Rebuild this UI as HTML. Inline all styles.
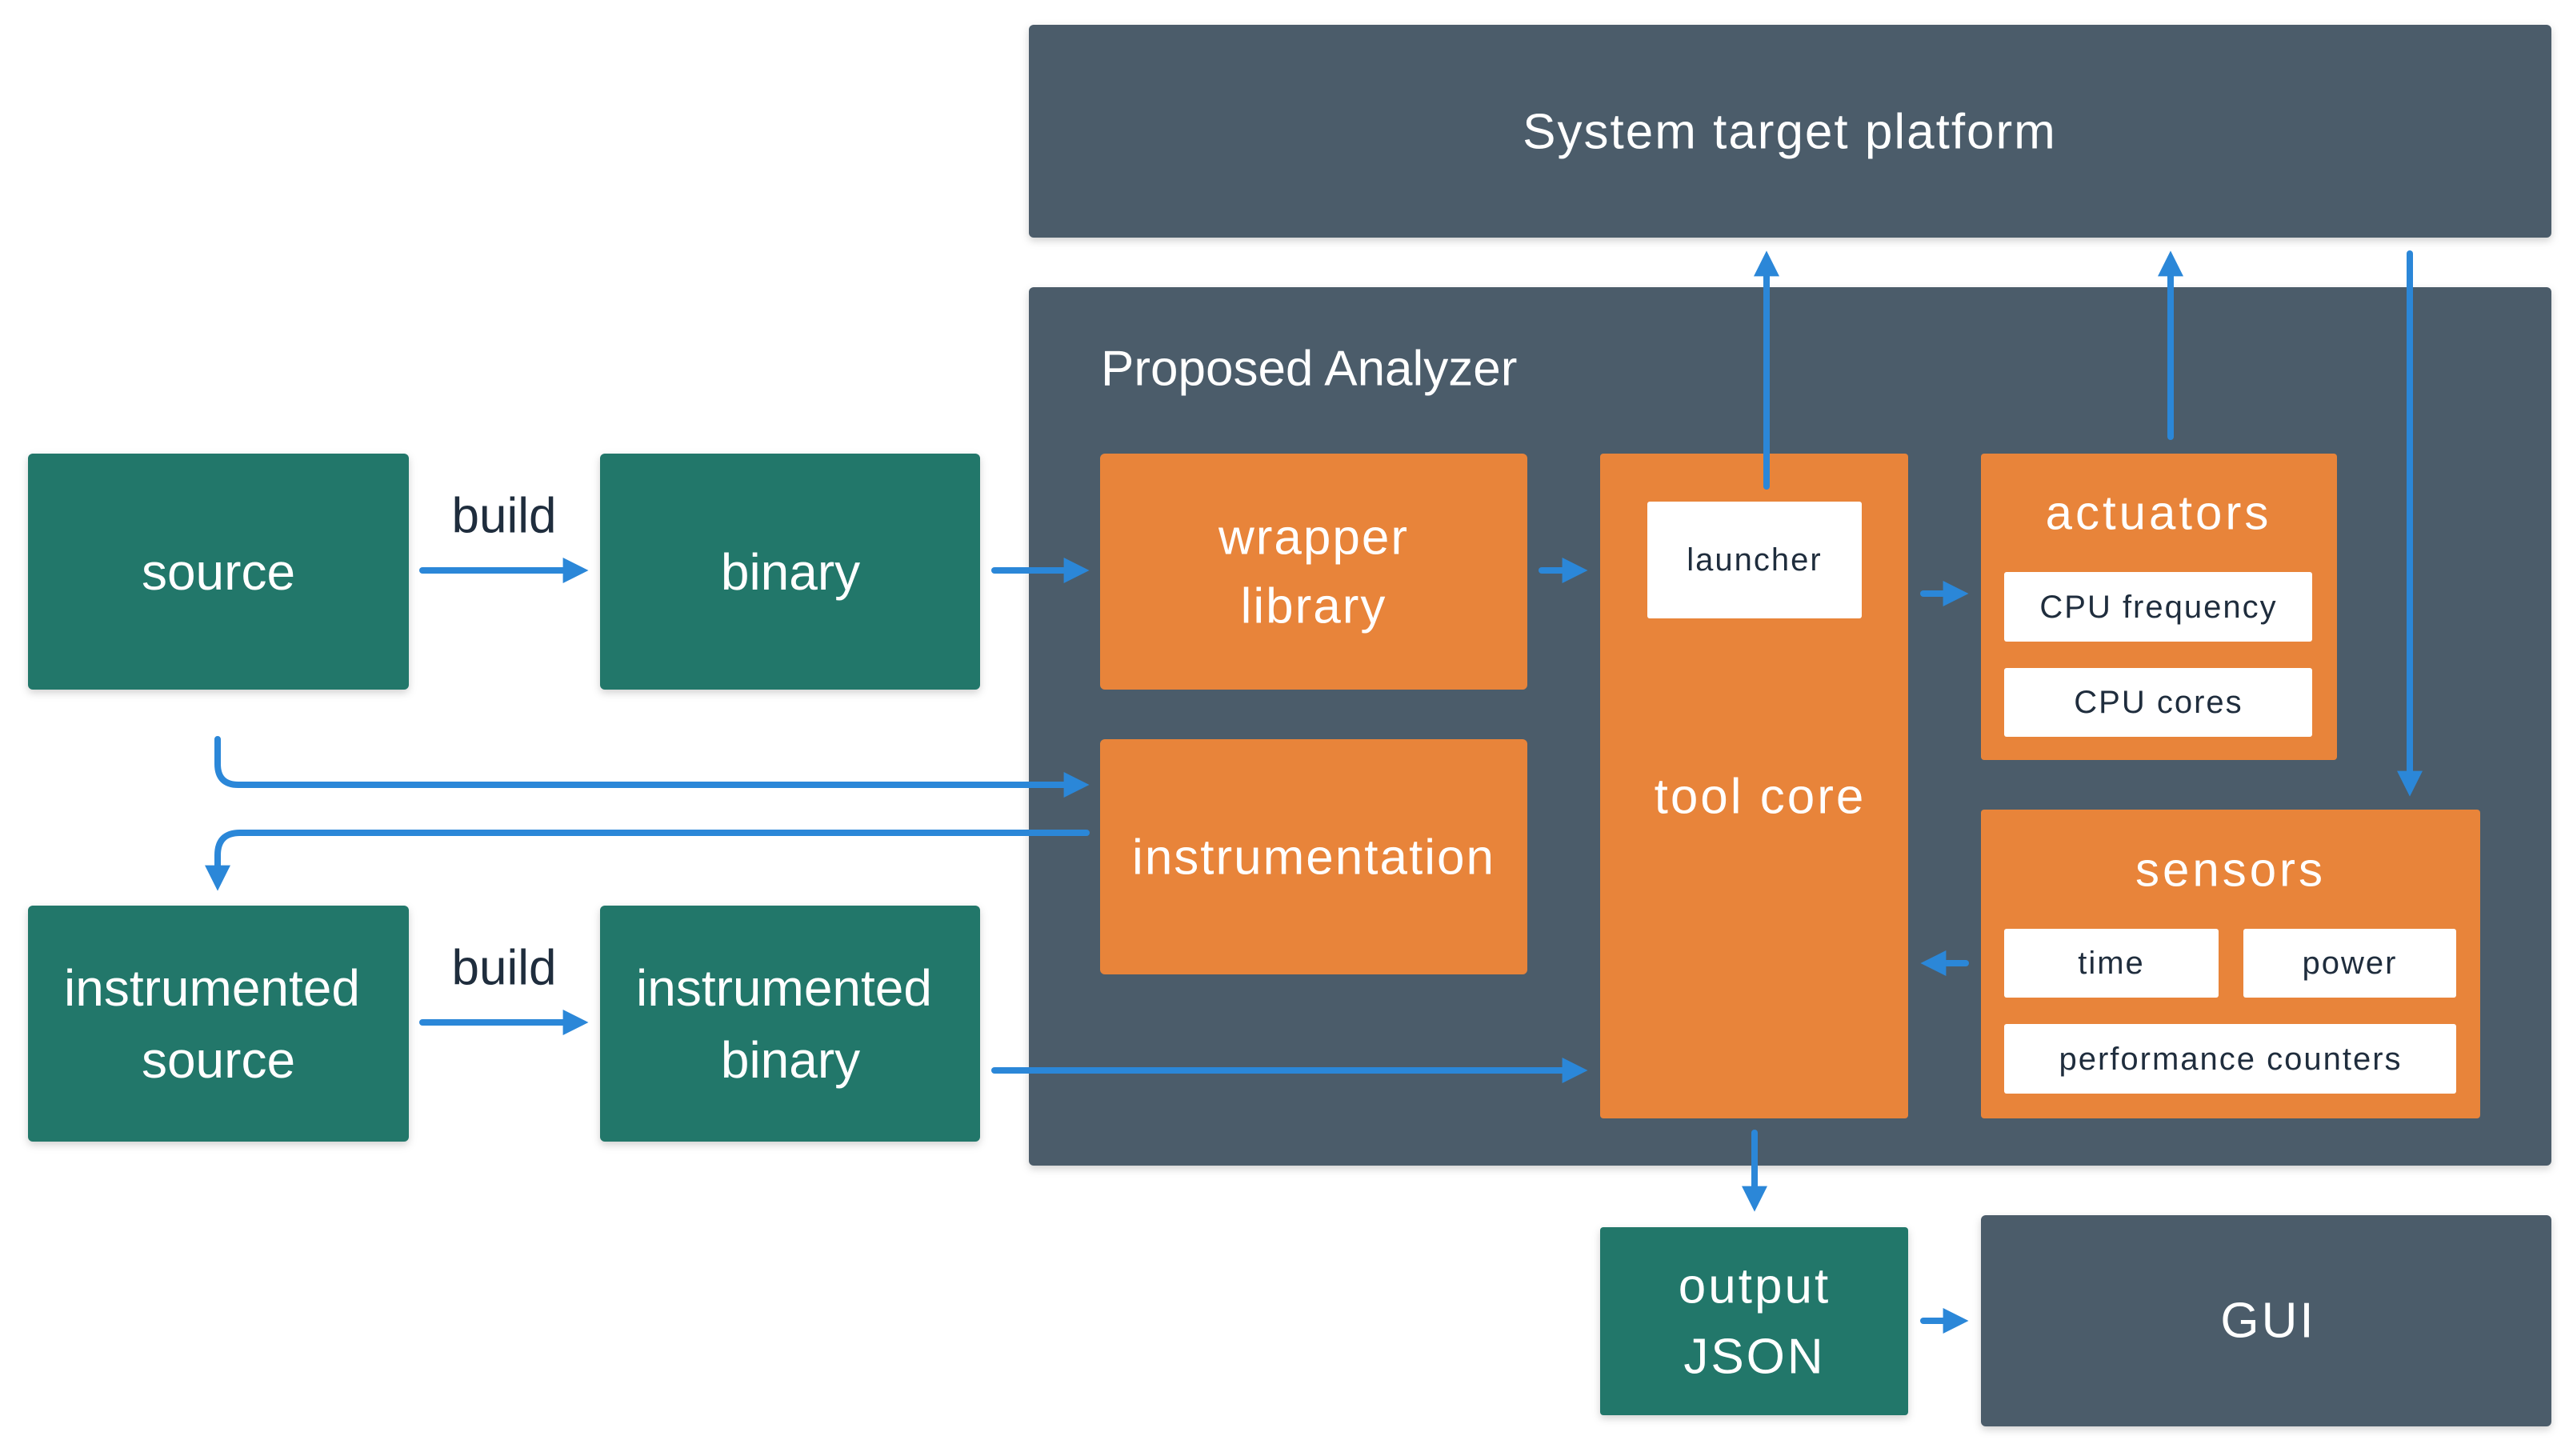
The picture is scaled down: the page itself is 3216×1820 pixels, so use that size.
<!DOCTYPE html>
<html><head><meta charset="utf-8"><style>
html,body{margin:0;padding:0;background:#fff}
svg{display:block}
text{font-family:"Liberation Sans",sans-serif;text-anchor:middle;dominant-baseline:central}
.w{fill:#fff}
.d{fill:#1f2d3d}
.a{stroke:#2b87d8;stroke-width:8;fill:none;stroke-linecap:round;stroke-linejoin:round}
</style></head><body>
<svg width="3216" height="1820" viewBox="0 0 3216 1820" xmlns="http://www.w3.org/2000/svg">
<defs>
<marker id="m" viewBox="0 0 10 10" refX="7" refY="5" markerWidth="4" markerHeight="5" orient="auto" markerUnits="strokeWidth">
<path d="M0,0 L10,5 L0,10 Z" fill="#2b87d8"/>
</marker>
<filter id="sh" x="-5%" y="-5%" width="110%" height="115%"><feDropShadow dx="0" dy="4" stdDeviation="5" flood-opacity="0.18"/></filter>
</defs>
<!-- platform -->
<rect x="1286" y="31" width="1903" height="266" rx="6" fill="#4b5c6b" filter="url(#sh)"/>
<text x="2237" y="165" class="w" font-size="62" letter-spacing="2">System target platform</text>
<!-- analyzer -->
<rect x="1286" y="359" width="1903" height="1098" rx="6" fill="#4b5c6b" filter="url(#sh)"/>
<text x="1376" y="461" class="w" font-size="62" style="text-anchor:start">Proposed Analyzer</text>
<!-- green -->
<g fill="#20776a" filter="url(#sh)">
<rect x="35" y="567" width="476" height="295" rx="6"/>
<rect x="750" y="567" width="475" height="295" rx="6"/>
<rect x="35" y="1132" width="476" height="295" rx="6"/>
<rect x="750" y="1132" width="475" height="295" rx="6"/>
<rect x="2000" y="1534" width="385" height="235" rx="4"/>
</g>
<rect x="2476" y="1519" width="713" height="264" rx="6" fill="#4b5c6b" filter="url(#sh)"/>
<text x="273" y="715" class="w" font-size="64">source</text>
<text x="988" y="715" class="w" font-size="64">binary</text>
<text x="265" y="1235" class="w" font-size="64">instrumented</text>
<text x="273" y="1325" class="w" font-size="64">source</text>
<text x="980" y="1235" class="w" font-size="64">instrumented</text>
<text x="988" y="1325" class="w" font-size="64">binary</text>
<text x="630" y="645" class="d" font-size="62">build</text>
<text x="630" y="1210" class="d" font-size="62">build</text>
<text x="2193" y="1608" class="w" font-size="62" letter-spacing="3">output</text>
<text x="2193" y="1696" class="w" font-size="62" letter-spacing="3">JSON</text>
<text x="2835" y="1651" class="w" font-size="62" letter-spacing="3">GUI</text>
<!-- orange -->
<g fill="#e8843a">
<rect x="1375" y="567" width="534" height="295" rx="6"/>
<rect x="1375" y="924" width="534" height="294" rx="6"/>
<rect x="2000" y="567" width="385" height="831" rx="4"/>
<rect x="2476" y="567" width="445" height="383" rx="4"/>
<rect x="2476" y="1012" width="624" height="386" rx="4"/>
</g>
<text x="1642" y="672" class="w" font-size="62" letter-spacing="2">wrapper</text>
<text x="1642" y="758" class="w" font-size="62" letter-spacing="2">library</text>
<text x="1642" y="1072" class="w" font-size="62" letter-spacing="2">instrumentation</text>
<text x="2200" y="996" class="w" font-size="62" letter-spacing="3">tool core</text>
<text x="2698" y="641" class="w" font-size="60" letter-spacing="4">actuators</text>
<text x="2788" y="1087" class="w" font-size="60" letter-spacing="4">sensors</text>
<g fill="#fff">
<rect x="2059" y="627" width="268" height="146" rx="3"/>
<rect x="2505" y="715" width="385" height="87" rx="3"/>
<rect x="2505" y="835" width="385" height="86" rx="3"/>
<rect x="2505" y="1161" width="268" height="86" rx="3"/>
<rect x="2804" y="1161" width="266" height="86" rx="3"/>
<rect x="2505" y="1280" width="565" height="87" rx="3"/>
</g>
<text x="2193" y="700" class="d" font-size="40" letter-spacing="2">launcher</text>
<text x="2698" y="759" class="d" font-size="40" letter-spacing="2">CPU frequency</text>
<text x="2698" y="878" class="d" font-size="40" letter-spacing="2">CPU cores</text>
<text x="2639" y="1204" class="d" font-size="40" letter-spacing="2">time</text>
<text x="2937" y="1204" class="d" font-size="40" letter-spacing="2">power</text>
<text x="2788" y="1324" class="d" font-size="40" letter-spacing="2">performance counters</text>
<!-- arrows -->
<g class="a" marker-end="url(#m)">
<path d="M528 713 H726"/>
<path d="M1243 713 H1352"/>
<path d="M1927 713 H1975"/>
<path d="M2404 742 H2451"/>
<path d="M2457 1204 H2410"/>
<path d="M528 1278 H726"/>
<path d="M1243 1338 H1975"/>
<path d="M272 924 V955 Q272 981 298 981 H1352"/>
<path d="M1358 1041 H300 Q272 1041 272 1069 V1104"/>
<path d="M2208 608 V323"/>
<path d="M2713 546 V323"/>
<path d="M3012 317 V986"/>
<path d="M2193 1416 V1505"/>
<path d="M2404 1651 H2451"/>
</g>
</svg>
</body></html>
